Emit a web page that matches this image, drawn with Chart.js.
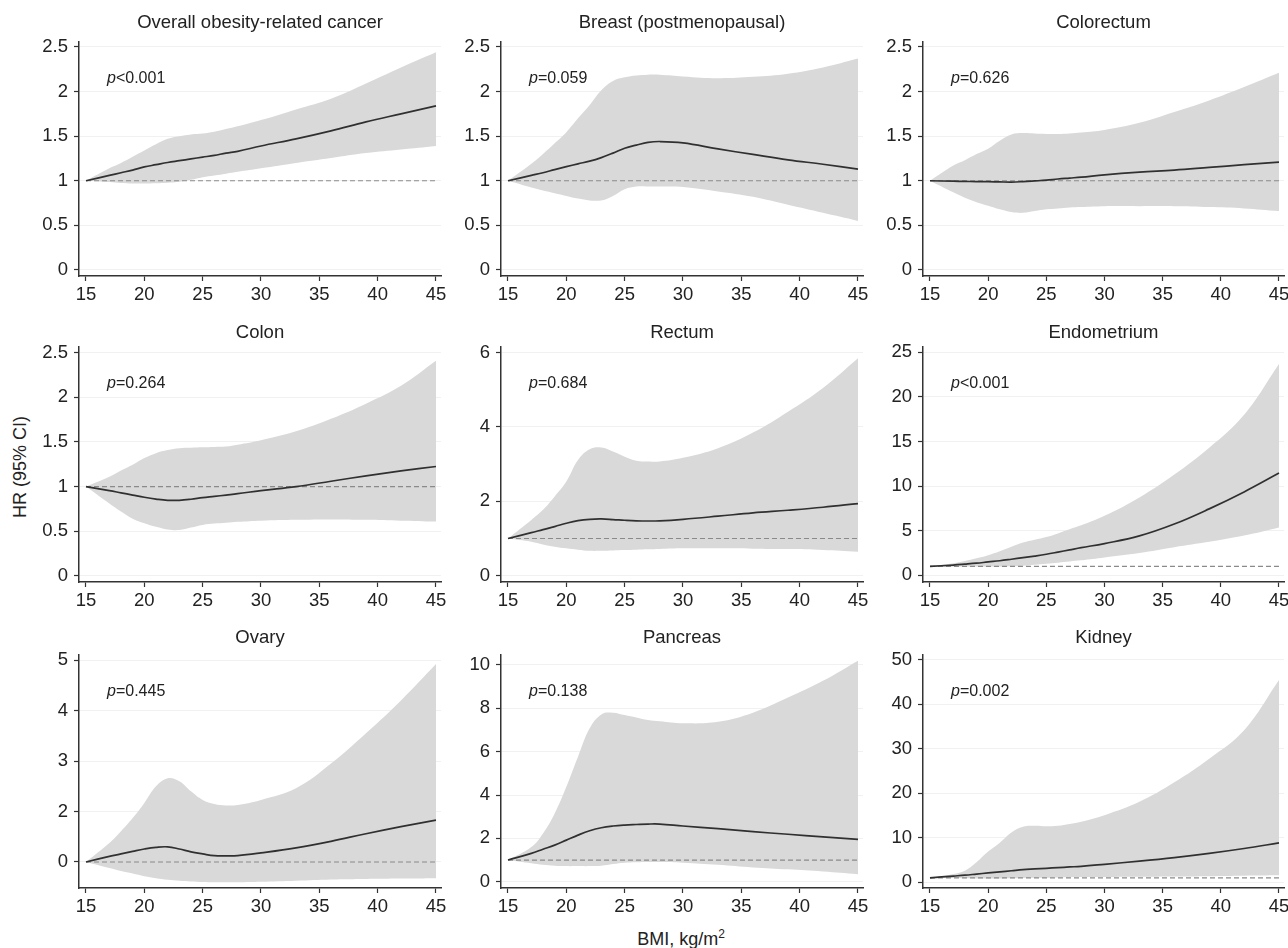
<!DOCTYPE html>
<html>
<head>
<meta charset="utf-8">
<script src="https://cdn.jsdelivr.net/npm/chart.js@4.4.1/dist/chart.umd.min.js"></script>
<style>
  body { margin: 0; background: #fff; }
  #wrap { position: relative; width: 1288px; height: 948px; overflow: hidden; font-family: "Liberation Sans", Arial, sans-serif; color: #222; }
  #wrap canvas { position: absolute; }
  .ytitle { position: absolute; left: 20px; top: 467px; transform: translate(-50%, -50%) rotate(-90deg); font-size: 18px; white-space: nowrap; }
  .xtitle { position: absolute; left: 681px; top: 938px; transform: translate(-50%, -50%); font-size: 18px; white-space: nowrap; }
  .xtitle sup { font-size: 12px; }
</style>
</head>
<body>
<div id="wrap">
  <div class="ytitle">HR (95% CI)</div>
  <div class="xtitle">BMI, kg/m<sup>2</sup></div>
</div>
<script>
// BMI grid the curves were read at
const bmi = [15, 17, 18, 19, 20, 21, 22, 23, 24, 25, 26, 27, 28, 30, 33, 36, 39, 42, 45];
const xTicks = [15, 20, 25, 30, 35, 40, 45];

const titles = ['Overall obesity-related cancer', 'Breast (postmenopausal)', 'Colorectum',
                'Colon', 'Rectum', 'Endometrium', 'Ovary', 'Pancreas', 'Kidney'];
const pTexts = ['<0.001', '=0.059', '=0.626', '=0.264', '=0.684', '<0.001', '=0.445', '=0.138', '=0.002'];

const overallHr = [1, 1.06, 1.09, 1.12, 1.155, 1.18, 1.205, 1.225, 1.245, 1.265, 1.285, 1.31, 1.33, 1.39, 1.47, 1.56, 1.66, 1.75, 1.84];
const overallHi = [1, 1.14, 1.20, 1.27, 1.34, 1.41, 1.47, 1.50, 1.52, 1.53, 1.55, 1.58, 1.61, 1.68, 1.80, 1.92, 2.09, 2.27, 2.44];
const overallLo = [1, 0.985, 0.975, 0.97, 0.97, 0.972, 0.978, 0.99, 1.01, 1.04, 1.06, 1.08, 1.10, 1.14, 1.20, 1.255, 1.31, 1.35, 1.39];

const breastHr = [1, 1.06, 1.09, 1.125, 1.158, 1.19, 1.22, 1.26, 1.31, 1.365, 1.40, 1.43, 1.44, 1.425, 1.357, 1.295, 1.235, 1.185, 1.13];
const breastHi = [1, 1.19, 1.30, 1.42, 1.545, 1.70, 1.85, 2.015, 2.12, 2.16, 2.18, 2.19, 2.19, 2.17, 2.15, 2.165, 2.20, 2.27, 2.37];
const breastLo = [1, 0.925, 0.89, 0.86, 0.83, 0.80, 0.78, 0.78, 0.83, 0.905, 0.935, 0.935, 0.935, 0.93, 0.88, 0.82, 0.73, 0.64, 0.55];

const colorectumHr = [1, 0.995, 0.993, 0.99, 0.99, 0.987, 0.985, 0.99, 0.998, 1.007, 1.02, 1.03, 1.04, 1.067, 1.097, 1.12, 1.15, 1.18, 1.21];
const colorectumHi = [1, 1.17, 1.23, 1.30, 1.36, 1.45, 1.52, 1.535, 1.53, 1.525, 1.525, 1.53, 1.54, 1.57, 1.65, 1.77, 1.90, 2.05, 2.21];
const colorectumLo = [1, 0.87, 0.81, 0.76, 0.72, 0.68, 0.65, 0.64, 0.66, 0.68, 0.69, 0.70, 0.705, 0.715, 0.715, 0.715, 0.705, 0.69, 0.66];

const colonHr = [1, 0.955, 0.93, 0.905, 0.88, 0.86, 0.846, 0.846, 0.858, 0.876, 0.89, 0.905, 0.92, 0.955, 1.0, 1.06, 1.12, 1.175, 1.225];
const colonHi = [1, 1.11, 1.18, 1.245, 1.32, 1.375, 1.41, 1.43, 1.435, 1.44, 1.445, 1.45, 1.47, 1.52, 1.62, 1.76, 1.93, 2.13, 2.41];
const colonLo = [1, 0.81, 0.72, 0.64, 0.59, 0.55, 0.52, 0.513, 0.54, 0.57, 0.585, 0.595, 0.605, 0.618, 0.628, 0.632, 0.628, 0.618, 0.607];

const rectumHr = [1, 1.157, 1.24, 1.32, 1.41, 1.48, 1.516, 1.525, 1.51, 1.49, 1.475, 1.47, 1.475, 1.516, 1.60, 1.69, 1.76, 1.84, 1.94];
const rectumHi = [1, 1.50, 1.77, 2.13, 2.53, 3.11, 3.40, 3.45, 3.34, 3.20, 3.09, 3.07, 3.07, 3.17, 3.43, 3.85, 4.41, 5.05, 5.85];
const rectumLo = [1, 0.915, 0.84, 0.78, 0.735, 0.70, 0.67, 0.67, 0.68, 0.69, 0.70, 0.71, 0.72, 0.735, 0.735, 0.727, 0.715, 0.69, 0.645];

const endoHr = [1, 1.15, 1.25, 1.36, 1.5, 1.63, 1.8, 1.98, 2.16, 2.36, 2.6, 2.85, 3.1, 3.56, 4.42, 5.75, 7.45, 9.35, 11.46];
const endoHi = [1, 1.35, 1.6, 1.9, 2.25, 2.7, 3.2, 3.67, 4.0, 4.3, 4.7, 5.17, 5.6, 6.67, 8.73, 11.3, 14.3, 18.0, 23.7];
const endoLo = [1, 1.0, 1.0, 1.0, 1.0, 1.0, 1.02, 1.08, 1.18, 1.3, 1.42, 1.55, 1.68, 2.0, 2.5, 3.15, 3.75, 4.45, 5.36];

const ovaryHr = [1, 1.11, 1.16, 1.21, 1.257, 1.29, 1.30, 1.257, 1.20, 1.16, 1.125, 1.12, 1.125, 1.18, 1.28, 1.41, 1.56, 1.70, 1.83];
const ovaryHi = [1, 1.375, 1.61, 1.87, 2.17, 2.50, 2.66, 2.60, 2.40, 2.23, 2.15, 2.12, 2.13, 2.23, 2.46, 2.95, 3.55, 4.2, 4.92];
const ovaryLo = [1, 0.88, 0.82, 0.77, 0.72, 0.68, 0.65, 0.63, 0.615, 0.605, 0.60, 0.60, 0.60, 0.61, 0.63, 0.655, 0.665, 0.673, 0.68];

const pancreasHr = [1, 1.31, 1.50, 1.69, 1.92, 2.15, 2.35, 2.49, 2.57, 2.615, 2.64, 2.66, 2.66, 2.57, 2.45, 2.31, 2.19, 2.07, 1.95];
const pancreasHi = [1, 1.6, 2.23, 3.15, 4.38, 5.77, 7.08, 7.72, 7.8, 7.69, 7.58, 7.46, 7.4, 7.31, 7.38, 7.8, 8.5, 9.27, 10.2];
const pancreasLo = [1, 0.85, 0.78, 0.74, 0.72, 0.72, 0.72, 0.74, 0.815, 0.88, 0.90, 0.91, 0.91, 0.88, 0.78, 0.66, 0.57, 0.47, 0.35];

const kidneyHr = [1, 1.4, 1.6, 1.85, 2.1, 2.35, 2.6, 2.85, 3.0, 3.15, 3.3, 3.45, 3.6, 4.05, 4.75, 5.55, 6.5, 7.6, 8.85];
const kidneyHi = [1, 1.87, 2.6, 4.5, 6.9, 8.9, 11.2, 12.5, 12.7, 12.6, 12.7, 13.1, 13.6, 15.1, 18.1, 22.5, 27.8, 34.2, 45.5];
const kidneyLo = [1, 0.95, 0.9, 0.85, 0.82, 0.85, 0.9, 0.97, 1.0, 1.05, 1.1, 1.15, 1.17, 1.2, 1.24, 1.3, 1.38, 1.48, 1.57];

// reference line HR = 1
const refBmi = [15, 45];
const refHr = [1, 1];

// y tick values and their printed labels (the ovary panel prints "0" at the reference line)
const tick25 = [0, 0.5, 1, 1.5, 2, 2.5];
const tick25Labels = ['0', '0.5', '1', '1.5', '2', '2.5'];
const rectumTicks = [0, 2, 4, 6];
const endoTicks = [0, 5, 10, 15, 20, 25];
const ovaryTicks = [1, 2, 3, 4, 5];
const ovaryTickLabels = ['0', '2', '3', '4', '5'];
const pancreasTicks = [0, 2, 4, 6, 8, 10];
const kidneyTicks = [0, 10, 20, 30, 40, 50];

const series = [
  [overallHr, overallLo, overallHi], [breastHr, breastLo, breastHi], [colorectumHr, colorectumLo, colorectumHi],
  [colonHr, colonLo, colonHi], [rectumHr, rectumLo, rectumHi], [endoHr, endoLo, endoHi],
  [ovaryHr, ovaryLo, ovaryHi], [pancreasHr, pancreasLo, pancreasHi], [kidneyHr, kidneyLo, kidneyHi]
];
const yTicks = [tick25, tick25, tick25, tick25, rectumTicks, endoTicks, ovaryTicks, pancreasTicks, kidneyTicks];
const yTickLabels = [tick25Labels, tick25Labels, tick25Labels, tick25Labels, null, null, ovaryTickLabels, null, null];
const yRanges = [[-0.068, 2.556], [-0.068, 2.556], [-0.068, 2.556], [-0.07, 2.565], [-0.17, 6.15],
                 [-0.75, 25.6], [0.485, 5.1], [-0.29, 10.46], [-1.28, 51.1]];

// layout of plot areas
const colLeft = [79, 501, 923];
const colRight = [441, 863, 1284];
const rowTop = [42, 347, 655];
const rowBottom = [276, 582, 888];
const titleGap = [18.7, 13.7, 17];
const Y_W = 75, X_H = 34, TOP_H = 40, PAD_R = 12;
const FS = 18.5;

const FONT = '"Liberation Sans", Arial, sans-serif';
const pts = (xs, ys) => xs.map((x, i) => ({ x: x, y: ys[i] }));

const pValuePlugin = {
  id: 'pvalue',
  afterDatasetsDraw(chart, args, opts) {
    const ctx = chart.ctx, a = chart.chartArea;
    const x = a.left + 28, y = a.top + 37;
    ctx.save();
    ctx.fillStyle = '#222';
    ctx.textBaseline = 'middle';
    ctx.textAlign = 'left';
    ctx.font = 'italic 16px ' + FONT;
    ctx.fillText('p', x, y);
    const w = ctx.measureText('p').width;
    ctx.font = '16px ' + FONT;
    ctx.fillText(opts.text, x + w, y);
    ctx.restore();
  }
};

const wrap = document.getElementById('wrap');

titles.forEach((title, i) => {
  const r = Math.floor(i / 3), c = i % 3;
  const areaW = colRight[c] - colLeft[c];
  const areaH = rowBottom[r] - rowTop[r];
  const cv = document.createElement('canvas');
  cv.width = Y_W + areaW + PAD_R;
  cv.height = TOP_H + areaH + X_H;
  cv.style.left = (colLeft[c] - Y_W) + 'px';
  cv.style.top = (rowTop[r] - TOP_H) + 'px';
  wrap.appendChild(cv);

  const [hr, lo, hi] = series[i];
  const ticks = yTicks[i], labels = yTickLabels[i];
  const gap = titleGap[r];

  new Chart(cv.getContext('2d'), {
    type: 'line',
    data: {
      datasets: [
        { data: pts(bmi, hr), borderColor: '#303030', borderWidth: 1.7, pointRadius: 0, fill: false, tension: 0.4 },
        { data: pts(refBmi, refHr), borderColor: '#8a8a8a', borderWidth: 1.2, borderDash: [5, 3], pointRadius: 0, fill: false },
        { data: pts(bmi, hi), borderWidth: 0, borderColor: 'rgba(0,0,0,0)', backgroundColor: '#d9d9d9', pointRadius: 0, fill: '+1', tension: 0.4 },
        { data: pts(bmi, lo), borderWidth: 0, borderColor: 'rgba(0,0,0,0)', pointRadius: 0, fill: false, tension: 0.4 }
      ]
    },
    options: {
      responsive: false,
      animation: false,
      devicePixelRatio: 1,
      layout: { padding: { left: 0, right: PAD_R, top: 0, bottom: 0 } },
      scales: {
        x: {
          type: 'linear',
          min: 14.4,
          max: 45.43,
          afterBuildTicks: s => { s.ticks = xTicks.map(v => ({ value: v })); },
          afterFit: s => { s.height = X_H; },
          grid: { drawOnChartArea: false, tickLength: 5, tickColor: '#333', tickWidth: 1.2 },
          border: { color: '#333', width: 1.5 },
          ticks: { color: '#222', padding: 3, maxRotation: 0, font: { family: FONT, size: FS }, callback: v => String(v) }
        },
        y: {
          type: 'linear',
          min: yRanges[i][0],
          max: yRanges[i][1],
          afterBuildTicks: s => { s.ticks = ticks.map(v => ({ value: v })); },
          afterFit: s => { s.width = Y_W; },
          grid: { color: '#f1f1f1', lineWidth: 1, tickLength: 5, tickColor: '#333', tickWidth: 1.2 },
          border: { color: '#333', width: 1.5 },
          ticks: {
            color: '#222', padding: 6, font: { family: FONT, size: FS },
            callback: v => labels ? labels[ticks.indexOf(v)] : String(v)
          }
        }
      },
      plugins: {
        legend: { display: false },
        tooltip: { enabled: false },
        title: {
          display: true,
          fullSize: false,
          text: title,
          color: '#222',
          font: { family: FONT, size: FS, weight: 'normal', lineHeight: 1.2 },
          padding: { top: TOP_H - gap - FS * 0.6, bottom: gap - FS * 0.6 }
        },
        pvalue: { text: pTexts[i] }
      }
    },
    plugins: [pValuePlugin]
  });
});
</script>
</body>
</html>
